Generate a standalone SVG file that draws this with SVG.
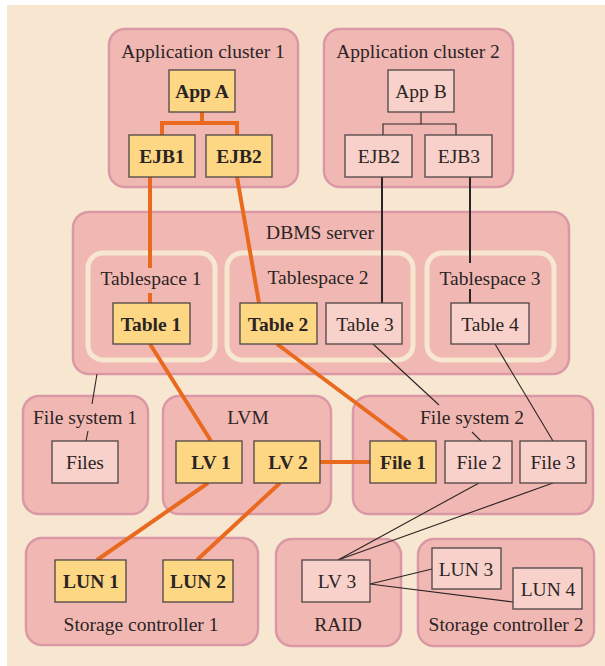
<svg xmlns="http://www.w3.org/2000/svg" width="605" height="666" viewBox="0 0 605 666">
<style>
text{font-family:"Liberation Serif","Times New Roman",serif;font-size:19.5px;fill:#2b2424;text-anchor:middle}
.b{font-weight:bold}
.grp{fill:#F1B8B3;stroke:#DA98A6;stroke-width:2.5}
.ts{fill:#F1B8B3;stroke:#F7E7D0;stroke-width:5}
.y{fill:#FDD783;stroke:#4d4646;stroke-width:1.3}
.p{fill:#F8D1CA;stroke:#4d4646;stroke-width:1.3}
.o{stroke:#E96A1F;stroke-width:4;fill:none}
.k{stroke:#2b2424;stroke-width:1.1;fill:none}
.kk{stroke:#2b2424;stroke-width:2;fill:none}
</style>
<rect x="0" y="0" width="605" height="666" fill="#ffffff"/>
<rect x="7" y="5" width="598" height="661" fill="#F7E7D0"/>

<g id="cluster1">
<rect class="grp" x="109" y="29" width="189" height="158" rx="16"/>
<text x="203" y="58">Application cluster 1</text>
</g>
<g id="cluster2">
<rect class="grp" x="324" y="29" width="189" height="158" rx="16"/>
<text x="418" y="58">Application cluster 2</text>
</g>
<g id="dbms">
<rect class="grp" x="73" y="212" width="496" height="162" rx="16"/>
<text x="320" y="239">DBMS server</text>
</g>
<g id="tablespace1">
<rect class="ts" x="88" y="253" width="127" height="107" rx="15"/>
<text x="151" y="285">Tablespace 1</text>
</g>
<g id="tablespace2">
<rect class="ts" x="227" y="253" width="186" height="107" rx="15"/>
<text x="318" y="284">Tablespace 2</text>
</g>
<g id="tablespace3">
<rect class="ts" x="427" y="253" width="127" height="107" rx="15"/>
<text x="490" y="285">Tablespace 3</text>
</g>
<g id="fs1">
<rect class="grp" x="23" y="396" width="125" height="118" rx="16"/>
<text x="85" y="424">File system 1</text>
</g>
<g id="lvm">
<rect class="grp" x="163" y="396" width="168" height="118" rx="16"/>
<text x="248" y="424">LVM</text>
</g>
<g id="fs2">
<rect class="grp" x="353" y="396" width="240" height="118" rx="16"/>
<text x="472" y="424">File system 2</text>
</g>
<g id="sc1">
<rect class="grp" x="26" y="538" width="232" height="107" rx="16"/>
<text x="141" y="631">Storage controller 1</text>
</g>
<g id="raid">
<rect class="grp" x="276" y="539" width="125" height="107" rx="16"/>
<text x="338" y="631">RAID</text>
</g>
<g id="sc2">
<rect class="grp" x="418" y="539" width="176" height="107" rx="16"/>
<text x="506" y="631">Storage controller 2</text>
</g>

<g id="connectors">
<polyline class="o" points="202,112 202,123 162,123 162,135"/>
<polyline class="o" points="202,123 237,123 237,135"/>
<polyline class="k" points="421,112 421,124 383,124 383,135"/>
<polyline class="k" points="421,124 456,124 456,135"/>
<line class="o" x1="150" y1="177" x2="150" y2="268"/>
<line class="o" x1="150" y1="293" x2="150" y2="303"/>
<line class="o" x1="237" y1="177" x2="259" y2="303"/>
<line class="kk" x1="382" y1="177" x2="382" y2="303"/>
<line class="kk" x1="470" y1="177" x2="470" y2="263"/>
<line class="kk" x1="470" y1="289" x2="470" y2="303"/>
<line class="o" x1="150" y1="344" x2="211" y2="441"/>
<line class="o" x1="277" y1="344" x2="407" y2="441"/>
<line class="k" x1="373" y1="344" x2="439" y2="405"/>
<line class="k" x1="472" y1="432" x2="481" y2="441"/>
<line class="k" x1="495" y1="344" x2="553" y2="441"/>
<line class="k" x1="97" y1="374" x2="92" y2="404"/>
<line class="k" x1="88" y1="431" x2="86" y2="441"/>
<line class="o" x1="320" y1="462" x2="370" y2="462"/>
<line class="o" x1="208" y1="483" x2="97" y2="560"/>
<line class="o" x1="280" y1="483" x2="197" y2="560"/>
<line class="k" x1="479" y1="483" x2="338" y2="560"/>
<line class="k" x1="553" y1="483" x2="338" y2="560"/>
<line class="k" x1="370" y1="584" x2="432" y2="569"/>
<line class="k" x1="370" y1="584" x2="513" y2="602"/>
</g>

<g id="appA"><rect class="y" x="169" y="70" width="66" height="42"/><text class="b" x="202" y="98">App A</text></g>
<g id="ejb1a"><rect class="y" x="129" y="135" width="66" height="42"/><text class="b" x="162" y="163">EJB1</text></g>
<g id="ejb2a"><rect class="y" x="206" y="135" width="66" height="42"/><text class="b" x="239" y="163">EJB2</text></g>
<g id="appB"><rect class="p" x="388" y="70" width="66" height="42"/><text x="421" y="98">App B</text></g>
<g id="ejb2b"><rect class="p" x="345" y="135" width="67" height="42"/><text x="379" y="163">EJB2</text></g>
<g id="ejb3b"><rect class="p" x="425" y="135" width="67" height="42"/><text x="459" y="163">EJB3</text></g>
<g id="table1"><rect class="y" x="113" y="303" width="77" height="41"/><text class="b" x="151" y="331">Table 1</text></g>
<g id="table2"><rect class="y" x="240" y="303" width="77" height="41"/><text class="b" x="278" y="331">Table 2</text></g>
<g id="table3"><rect class="p" x="326" y="303" width="76" height="41"/><text x="365" y="331">Table 3</text></g>
<g id="table4"><rect class="p" x="451" y="303" width="78" height="41"/><text x="490" y="331">Table 4</text></g>
<g id="files"><rect class="p" x="52" y="441" width="66" height="42"/><text x="85" y="469">Files</text></g>
<g id="lv1"><rect class="y" x="176" y="441" width="66" height="42"/><text class="b" x="211" y="469">LV 1</text></g>
<g id="lv2"><rect class="y" x="254" y="441" width="66" height="42"/><text class="b" x="288" y="469">LV 2</text></g>
<g id="file1"><rect class="y" x="370" y="441" width="66" height="42"/><text class="b" x="403" y="469">File 1</text></g>
<g id="file2"><rect class="p" x="445" y="441" width="67" height="42"/><text x="479" y="469">File 2</text></g>
<g id="file3"><rect class="p" x="520" y="441" width="66" height="42"/><text x="553" y="469">File 3</text></g>
<g id="lun1"><rect class="y" x="55" y="560" width="71" height="42"/><text class="b" x="91" y="588">LUN 1</text></g>
<g id="lun2"><rect class="y" x="163" y="560" width="70" height="42"/><text class="b" x="198" y="588">LUN 2</text></g>
<g id="lv3"><rect class="p" x="302" y="560" width="68" height="42"/><text x="337" y="588">LV 3</text></g>
<g id="lun3"><rect class="p" x="432" y="548" width="69" height="41"/><text x="466" y="576">LUN 3</text></g>
<g id="lun4"><rect class="p" x="513" y="568" width="69" height="41"/><text x="548" y="596">LUN 4</text></g>
</svg>
